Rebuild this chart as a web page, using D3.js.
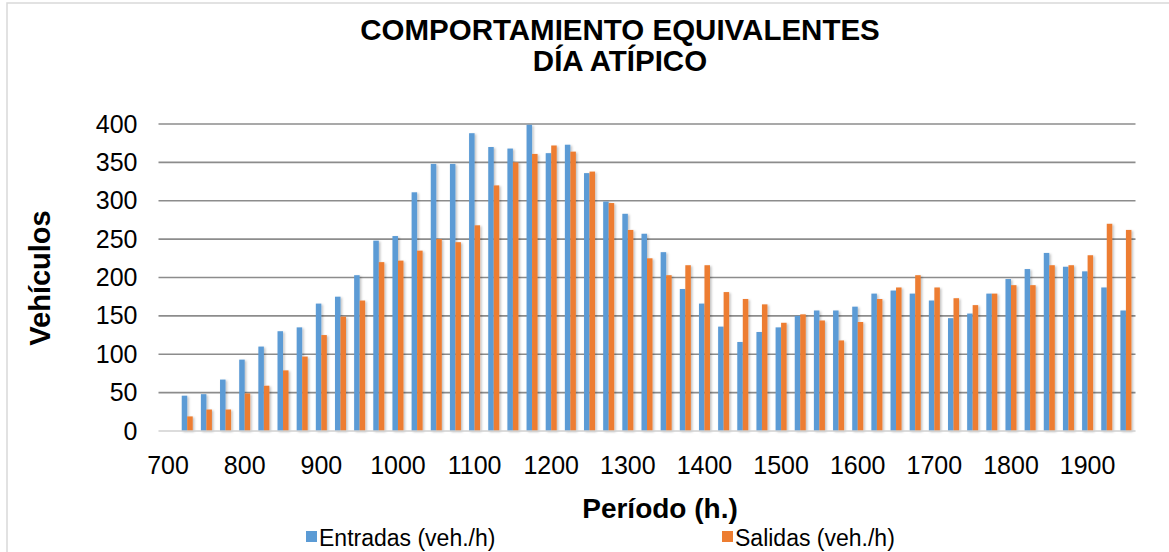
<!DOCTYPE html>
<html>
<head>
<meta charset="utf-8">
<script src="https://cdn.jsdelivr.net/npm/d3@7/dist/d3.min.js"></script>
<style>
  html, body { margin: 0; padding: 0; background: #fff; }
  svg { display: block; font-family: "Liberation Sans", Arial, sans-serif; }
</style>
</head>
<body>
<svg id="chart" width="1169" height="552"></svg>
<script>
const categories = ["700","715","730","745","800","815","830","845","900","915","930","945",
  "1000","1015","1030","1045","1100","1115","1130","1145","1200","1215","1230","1245",
  "1300","1315","1330","1345","1400","1415","1430","1445","1500","1515","1530","1545",
  "1600","1615","1630","1645","1700","1715","1730","1745","1800","1815","1830","1845",
  "1900","1915","1930"];
const entradas = [null,46,48,67,93,110,130,135,166,175,203,248,254,311,348,348,388,370,368,399,362,
  373,336,299,283,257,233,185,166,136,116,129,135,150,157,157,162,179,183,179,170,
  147,153,179,198,211,232,214,208,187,157];
const salidas = [null,19,28,28,49,59,79,97,125,149,170,220,222,235,250,246,268,320,350,361,372,
  364,338,297,262,225,203,216,216,181,172,165,141,152,144,118,142,172,187,203,187,
  173,164,179,190,190,216,216,229,270,262];
const seriesNames = ["Entradas (veh./h)", "Salidas (veh./h)"];
const seriesColors = ["#5B9BD5", "#ED7D31"];
const yTicks = [0,50,100,150,200,250,300,350,400];
const xTickLabels = categories.filter((d, i) => i % 4 === 0);

const svg = d3.select("#chart");

// outer border
svg.append("rect").attr("x", 7).attr("y", 3).attr("width", 1250).attr("height", 700)
  .attr("fill", "none").attr("stroke", "#d9d9d9").attr("stroke-width", 1.5);

const defs = svg.append("defs");
const f = defs.append("filter").attr("id", "shadow").attr("x", "-50%").attr("y", "-10%").attr("width", "200%").attr("height", "120%");
f.append("feDropShadow").attr("dx", 1.5).attr("dy", 1).attr("stdDeviation", 1)
  .attr("flood-color", "#000").attr("flood-opacity", 0.25);

const pLeft = 158.5, pRight = 1135.5, pTop = 124, pBottom = 431;

const x = d3.scaleBand().domain(categories).range([pLeft, pRight]).padding(0);
const x1 = d3.scaleBand().domain([0, 1]).range([0, x.bandwidth()]).paddingInner(0).paddingOuter(0.74);
const y = d3.scaleLinear().domain([0, 400]).range([pBottom, pTop]);

// gridlines
svg.append("g").selectAll("line").data(yTicks.filter(d => d > 0)).join("line")
  .attr("x1", pLeft).attr("x2", pRight)
  .attr("y1", d => y(d)).attr("y2", d => y(d))
  .attr("stroke", "#8c8c8c").attr("stroke-width", 1.6);

// bars
const data = categories.map((c, i) => ({ c, v: [entradas[i], salidas[i]] }));
const groups = svg.append("g").attr("filter", "url(#shadow)");
data.forEach(d => {
  d.v.forEach((v, s) => {
    if (v == null) return;
    groups.append("rect")
      .attr("x", x(d.c) + x1(s))
      .attr("width", x1.bandwidth())
      .attr("y", y(v))
      .attr("height", y(0) - y(v))
      .attr("fill", seriesColors[s]);
  });
});

// baseline
svg.append("line").attr("x1", pLeft).attr("x2", pRight).attr("y1", y(0)).attr("y2", y(0))
  .attr("stroke", "#d0d0d0").attr("stroke-width", 1.6);

// y axis
const yAxis = svg.append("g").attr("transform", `translate(${pLeft},0)`)
  .call(d3.axisLeft(y).tickValues(yTicks).tickSize(0).tickPadding(21));
yAxis.select(".domain").remove();
yAxis.selectAll("text").attr("font-size", 25).attr("fill", "#000")
  .attr("font-family", "'Liberation Sans', Arial, sans-serif");

// x axis
const xAxis = svg.append("g").attr("transform", `translate(0,${pBottom})`)
  .call(d3.axisBottom(x).tickValues(xTickLabels).tickSize(0).tickPadding(25));
xAxis.select(".domain").remove();
xAxis.selectAll("text").attr("font-size", 25).attr("fill", "#000")
  .attr("font-family", "'Liberation Sans', Arial, sans-serif");

// title
const title = svg.append("text").attr("text-anchor", "middle").attr("font-weight", "bold")
  .attr("font-size", 29.5).attr("fill", "#000");
title.append("tspan").attr("x", 620).attr("y", 40).text("COMPORTAMIENTO EQUIVALENTES");
title.append("tspan").attr("x", 620).attr("y", 71).text("DÍA ATÍPICO");

// axis titles
svg.append("text").attr("text-anchor", "middle").attr("font-weight", "bold").attr("font-size", 28)
  .attr("x", 660).attr("y", 518).text("Período (h.)");
svg.append("text").attr("text-anchor", "middle").attr("font-weight", "bold").attr("font-size", 29)
  .attr("transform", "translate(50,278) rotate(-90)").text("Vehículos");

// legend
const legendPos = [306, 722];
seriesNames.forEach((n, i) => {
  svg.append("rect").attr("x", legendPos[i]).attr("y", 531).attr("width", 11).attr("height", 11)
    .attr("fill", seriesColors[i]);
  svg.append("text").attr("x", legendPos[i] + 13).attr("y", 546).attr("font-size", 23)
    .attr("fill", "#000").text(n);
});
</script>
</body>
</html>
